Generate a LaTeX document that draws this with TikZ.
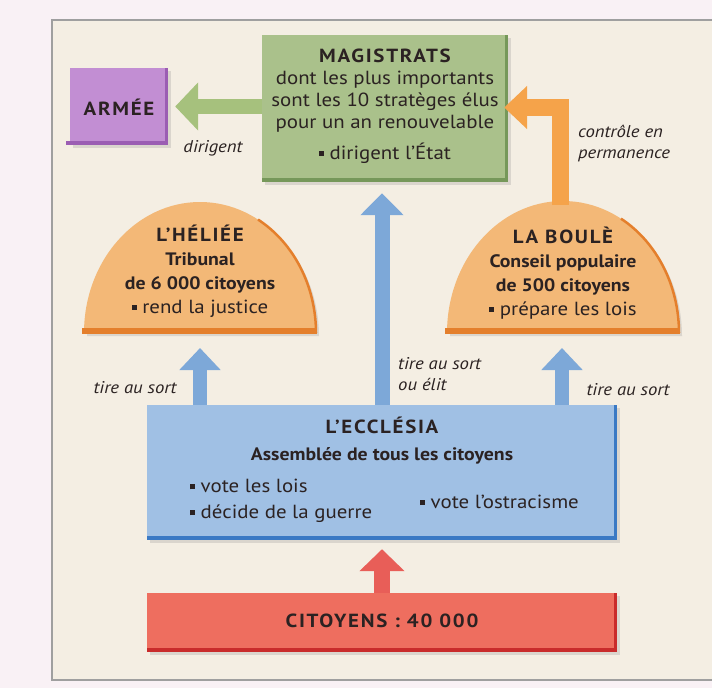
\documentclass[tikz,border=0pt]{standalone}
\usepackage{fontspec}
\setmainfont{PT Sans}[FakeStretch=1.1]
\usetikzlibrary{arrows.meta,shadows,calc}
\definecolor{bgout}{HTML}{F9F1F5}
\definecolor{bgin}{HTML}{F4EEE3}
\definecolor{magf}{HTML}{AAC18B}
\definecolor{magd}{HTML}{76985A}
\definecolor{armf}{HTML}{C28ED3}
\definecolor{armd}{HTML}{9B5DB3}
\definecolor{domef}{HTML}{F3B877}
\definecolor{domed}{HTML}{E47F2C}
\definecolor{eccf}{HTML}{A0C0E4}
\definecolor{eccd}{HTML}{3A79C4}
\definecolor{citf}{HTML}{EE6E5F}
\definecolor{citd}{HTML}{C92B2B}
\definecolor{barr}{HTML}{7DA8D8}
\definecolor{garr}{HTML}{A6C17D}
\definecolor{oarr}{HTML}{F5A34A}
\definecolor{rarr}{HTML}{E85E58}
\definecolor{ink}{HTML}{2B2222}
\newcommand\bul{\raisebox{0.18em}{\rule{0.26em}{0.26em}}\ }
\newcommand\ttl[1]{{\fontsize{19}{22}\selectfont\bfseries\addfontfeatures{LetterSpace=9}#1}}
\newcommand\subt[1]{{\fontsize{18}{22}\selectfont\bfseries #1}}
\tikzset{
  boxnode/.style={inner sep=0pt, align=center, text=ink,
    drop shadow={shadow xshift=3pt, shadow yshift=-3pt, opacity=0.22}},
  txt/.style={inner sep=0pt, align=center, text=ink, font=\fontsize{19}{22}\selectfont},
  lbl/.style={inner sep=0pt, text=ink, font=\fontsize{17}{21}\selectfont\itshape},
  bigarrow/.style={line width=15pt, -{Triangle[length=22pt,width=42pt]}},
  smallarrow/.style={line width=14pt, -{Triangle[length=22pt,width=40pt]}}
}
\begin{document}
\begin{tikzpicture}[x=1pt,y=-1pt]
\fill[bgout] (0,0) rectangle (712,688);
\useasboundingbox (0,0) rectangle (712,688);
\fill[bgin] (52,20) rectangle (716,680);
\draw[gray!75, line width=1.2pt] (716,20) -- (52,20) -- (52,680) -- (716,680);

% Magistrats
\node[boxnode, fill=magf, minimum width=246pt, minimum height=147pt] (mag) at (385,108.5) {};
\fill[magd] ($(mag.south west)+(0,-4)$) rectangle (mag.south east);
\fill[magd] ($(mag.north east)+(-3,0)$) rectangle (mag.south east);
\node[txt] (magtxt) at (385,106)
  {\ttl{MAGISTRATS}\\ dont les plus importants\\ sont les 10 stratèges élus\\ pour un an renouvelable\\[9pt] \bul dirigent l’État};

% Armee
\node[boxnode, fill=armf, minimum width=98pt, minimum height=77pt] (armee) at (119,106.5) {};
\fill[armd] ($(armee.south west)+(-4,-4)$) rectangle (armee.south east);
\fill[armd] ($(armee.north east)+(-3,0)$) rectangle (armee.south east);
\node[txt] (armtxt) at (119,107) {\ttl{ARMÉE}};

% Domes
\fill[domef, drop shadow={shadow xshift=3pt, shadow yshift=-3pt, opacity=0.22}]
  (84,333) arc[start angle=180, end angle=360, x radius=116, y radius=131] -- cycle;
\draw[domed, line width=2.5pt] (200,333) ++(300:116 and 131) arc[start angle=300, end angle=360, x radius=116, y radius=131];
\fill[domed] (82,328) rectangle (317,334);
\fill[domef, drop shadow={shadow xshift=3pt, shadow yshift=-3pt, opacity=0.22}]
  (447,333) arc[start angle=180, end angle=360, x radius=116, y radius=132] -- cycle;
\draw[domed, line width=2.5pt] (563,333) ++(300:116 and 132) arc[start angle=300, end angle=360, x radius=116, y radius=132];
\fill[domed] (445,328) rectangle (680,334);
\coordinate (helbase) at (200,333);
\coordinate (boubase) at (562,333);
\coordinate (boutop) at (560,205);
\node[txt, font=\fontsize{19}{24}\selectfont] (heliee) at (200,271)
  {\ttl{L’HÉLIÉE}\\ \subt{Tribunal}\\ \subt{de 6 000 citoyens}\\ \bul rend la justice};
\node[txt, font=\fontsize{19}{24}\selectfont] (boule) at (563,273)
  {\ttl{LA BOULÈ}\\ \subt{Conseil populaire}\\ \subt{de 500 citoyens}\\ \bul prépare les lois};

% Ecclesia
\node[boxnode, fill=eccf, minimum width=470pt, minimum height=135pt] (eccl) at (382,472.5) {};
\fill[eccd] ($(eccl.south west)+(0,-4)$) rectangle (eccl.south east);
\fill[eccd] ($(eccl.north east)+(-3,0)$) rectangle (eccl.south east);
\node[txt, font=\fontsize{19}{27}\selectfont] (ecctitle) at (382,441)
  {\ttl{L’ECCLÉSIA}\\ {\fontsize{18}{22}\selectfont\bfseries Assemblée de tous les citoyens}};
\node[txt, align=left, anchor=west, font=\fontsize{19}{26}\selectfont] (eccl1) at (190,501)
  {\bul vote les lois\\ \bul décide de la guerre};
\node[txt, anchor=west] (eccl2) at (420,502) {\bul vote l’ostracisme};

% Citoyens
\node[boxnode, fill=citf, minimum width=470pt, minimum height=59pt] (cit) at (382,622.5) {};
\fill[citd] ($(cit.south west)+(0,-4)$) rectangle (cit.south east);
\fill[citd] ($(cit.north east)+(-3,0)$) rectangle (cit.south east);
\node[txt] (cittxt) at (382,621) {\ttl{CITOYENS : 40 000}};

% Arrows
\draw[garr, line width=15pt, -{Triangle[length=23pt,width=47pt]}, shorten >=7pt]
  (armee.east -| mag.west) -- (armee.east);
\draw[oarr, line width=17pt, line join=miter, -{Triangle[length=23pt,width=42pt]}, shorten >=-4pt]
  (boutop) |- ($(mag.east)+(0,-1)$);
\draw[bigarrow, barr] (eccl.north) -- ($(eccl.north |- mag.south)+(0,11)$);
\draw[smallarrow, barr] (eccl.north -| helbase) -- ($(helbase)+(0,15)$);
\draw[smallarrow, barr] (eccl.north -| boubase) -- ($(boubase)+(0,15)$);
\draw[line width=16pt, rarr, -{Triangle[length=22pt,width=44pt]}] (cit.north) -- ($(eccl.south)+(0,9)$);

% Labels
\node[lbl] (ldir) at (213,148) {dirigent};
\node[lbl, align=left, anchor=west] (lctrl) at (578,143) {contrôle en\\ permanence};
\node[lbl] (ltl) at (135,388) {tire au sort};
\node[lbl, align=left, anchor=west] (ltm) at (398,374) {tire au sort\\ ou élit};
\node[lbl] (ltr) at (628,390) {tire au sort};
\end{tikzpicture}
\end{document}
